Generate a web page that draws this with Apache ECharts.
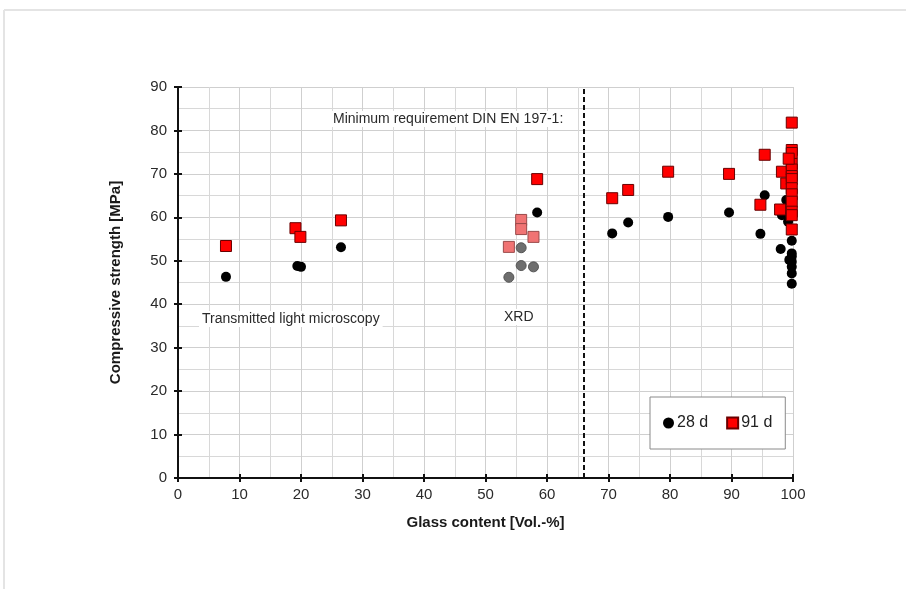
<!DOCTYPE html>
<html>
<head>
<meta charset="utf-8">
<script src="https://cdn.jsdelivr.net/npm/echarts@6/dist/echarts.min.js"></script>
<style>
  html, body { margin: 0; padding: 0; background: #fff; }
  #chart { width: 906px; height: 589px; }
</style>
</head>
<body>
<div id="chart"></div>
<script>
// Compressive strength vs. glass content
const xTicks = [0, 10, 20, 30, 40, 50, 60, 70, 80, 90, 100];
const yTicks = [0, 10, 20, 30, 40, 50, 60, 70, 80, 90];

// 28 d strength (microscopy + high glass content samples)
const glass28 = [7.8, 19.4, 20.0, 26.5, 58.4, 70.6, 73.2, 79.7, 89.6, 95.4, 94.7, 98.0, 98.9, 98.2, 99.2,
                 99.8, 99.8, 99.8, 99.4, 99.8, 99.8, 99.8, 99.8, 99.7];
const strength28 = [46.3, 48.8, 48.6, 53.1, 61.1, 56.3, 58.8, 60.1, 61.1, 65.1, 56.2, 52.7, 64.0, 60.5, 59.0,
                    54.6, 51.7, 51.0, 50.2, 49.8, 48.6, 47.1, 44.7, 62.0];

// 91 d strength
const glass91 = [7.8, 19.1, 19.9, 26.5, 58.4, 70.6, 73.2, 79.7, 89.6, 95.4, 94.7, 98.2, 97.9, 98.9,
                 99.8, 99.8, 99.8, 99.8, 99.8, 99.8, 99.8, 99.8, 99.8, 99.8, 99.8, 99.8, 99.8, 99.3];
const strength91 = [53.4, 57.5, 55.5, 59.3, 68.8, 64.4, 66.3, 70.5, 70.0, 74.4, 62.9, 70.5, 61.8, 67.8,
                    81.8, 75.5, 74.8, 72.3, 71.0, 69.5, 68.8, 66.7, 65.3, 63.6, 61.3, 60.5, 57.2, 73.5];

// XRD-determined glass content
const glassXrd = [53.8, 55.8, 55.8, 57.8];
const strengthXrd28 = [46.2, 53.0, 48.9, 48.6];
const strengthXrd91 = [53.2, 59.4, 57.3, 55.5];

// Minimum glass content per DIN EN 197-1
const minRequirement = 66;

const pairs = (xs, ys) => xs.map((x, i) => [x, ys[i]]);

const chart = echarts.init(document.getElementById('chart'), null, { renderer: 'canvas' });

const font = 'Liberation Sans, Arial, sans-serif';

chart.setOption({
  animation: false,
  backgroundColor: '#fff',
  grid: { left: 178, right: 113, top: 87, bottom: 111 },
  legend: {
    data: [
      { name: '28 d', icon: 'circle' },
      { name: '91 d', icon: 'rect' }
    ],
    left: 650, top: 397,
    padding: [18, 13, 18, 13],
    itemWidth: 11, itemHeight: 11, itemGap: 18,
    borderColor: '#8a8a8a', borderWidth: 1,
    backgroundColor: '#fff',
    textStyle: { fontFamily: font, fontSize: 16, color: '#222', padding: [0, 0, 0, -2] }
  },
  xAxis: [{
    type: 'value', min: 0, max: 100, interval: 10,
    name: 'Glass content [Vol.-%]', nameLocation: 'middle', nameGap: 37,
    nameTextStyle: { fontFamily: font, fontSize: 15, fontWeight: 'bold', color: '#1a1a1a' },
    axisLine: { show: true, onZero: false, lineStyle: { color: '#111', width: 2 } },
    axisTick: { show: true, length: 4, lineStyle: { color: '#111', width: 2 } },
    axisLabel: { fontFamily: font, fontSize: 15, color: '#2a2a2a', margin: 9,
                 formatter: v => xTicks.includes(v) ? String(v) : '' },
    splitLine: { show: true, lineStyle: { color: '#cfcfcf', width: 1 } },
    minorTick: { show: false, splitNumber: 2 },
    minorSplitLine: { show: true, lineStyle: { color: '#d8d8d8', width: 1 } }
  }, {
    type: 'value', min: 0, max: 100, interval: 10, position: 'bottom',
    axisLine: { show: false }, axisLabel: { show: false }, splitLine: { show: false },
    axisTick: { show: true, inside: true, length: 4, lineStyle: { color: '#111', width: 2 } }
  }],
  yAxis: [{
    type: 'value', min: 0, max: 90, interval: 10,
    name: 'Compressive strength [MPa]', nameLocation: 'middle', nameGap: 55, nameRotate: 90,
    nameTextStyle: { fontFamily: font, fontSize: 15, fontWeight: 'bold', color: '#1a1a1a' },
    axisLine: { show: true, onZero: false, lineStyle: { color: '#111', width: 2 } },
    axisTick: { show: true, length: 4, lineStyle: { color: '#111', width: 2 } },
    axisLabel: { fontFamily: font, fontSize: 15, color: '#2a2a2a', margin: 11,
                 formatter: v => yTicks.includes(v) ? String(v) : '' },
    splitLine: { show: true, lineStyle: { color: '#cfcfcf', width: 1 } },
    minorTick: { show: false, splitNumber: 2 },
    minorSplitLine: { show: true, lineStyle: { color: '#d8d8d8', width: 1 } }
  }, {
    type: 'value', min: 0, max: 90, interval: 10, position: 'left',
    axisLine: { show: false }, axisLabel: { show: false }, splitLine: { show: false },
    axisTick: { show: true, inside: true, length: 4, lineStyle: { color: '#111', width: 2 } }
  }],
  series: [
    {
      name: 'XRD 28 d', type: 'scatter', symbol: 'circle', symbolSize: 10,
      itemStyle: { color: '#6e6e6e', borderColor: '#555', borderWidth: 1, opacity: 1 },
      data: pairs(glassXrd, strengthXrd28), z: 3
    },
    {
      name: 'XRD 91 d', type: 'scatter', symbol: 'rect', symbolSize: 11,
      itemStyle: { color: '#f07373', borderColor: '#9a4a4a', borderWidth: 1, opacity: 1 },
      data: pairs(glassXrd, strengthXrd91), z: 3
    },
    {
      name: '28 d', type: 'scatter', symbol: 'circle', symbolSize: 10,
      itemStyle: { color: '#000', opacity: 1 },
      data: pairs(glass28, strength28), z: 4,
      markLine: {
        silent: true, symbol: 'none', label: { show: false },
        lineStyle: { color: '#111', type: [5, 3], width: 2 },
        data: [{ xAxis: minRequirement }]
      }
    },
    {
      name: '91 d', type: 'scatter', symbol: 'rect', symbolSize: 11,
      itemStyle: { color: '#ff0000', borderColor: '#6a0000', borderWidth: 1, opacity: 1 },
      data: pairs(glass91, strength91), z: 5
    }
  ],
  graphic: [
    { type: 'line', silent: true, shape: { x1: 4, y1: 10, x2: 906, y2: 10 }, style: { stroke: '#e4e4e4', lineWidth: 2 } },
    { type: 'line', silent: true, shape: { x1: 4, y1: 10, x2: 4, y2: 589 }, style: { stroke: '#e4e4e4', lineWidth: 2 } },
    { type: 'text', left: 330, top: 111, z: 10,
      style: { text: 'Minimum requirement DIN EN 197-1:', fontFamily: font,
               fontSize: 14, fill: '#2a2a2a', backgroundColor: '#fff', padding: [1, 3] } },
    { type: 'text', left: 199, top: 311, z: 10,
      style: { text: 'Transmitted light microscopy', fontFamily: font,
               fontSize: 14, fill: '#2a2a2a', backgroundColor: '#fff', padding: [1, 3] } },
    { type: 'text', left: 501, top: 309, z: 10,
      style: { text: 'XRD', fontFamily: font,
               fontSize: 14, fill: '#2a2a2a', backgroundColor: '#fff', padding: [1, 3] } }
  ]
});
</script>
</body>
</html>
